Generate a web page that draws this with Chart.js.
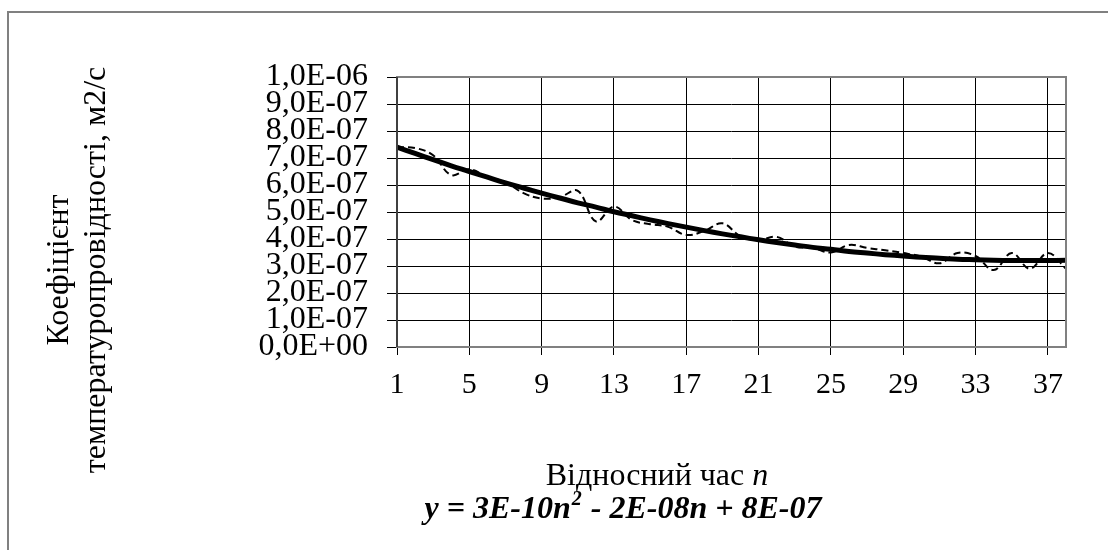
<!DOCTYPE html>
<html>
<head>
<meta charset="utf-8">
<script src="https://cdn.jsdelivr.net/npm/chart.js@4.4.1/dist/chart.umd.min.js"></script>
<style>
html, body { margin: 0; padding: 0; background: #fff; }
</style>
</head>
<body>
<canvas id="diffusivityChart" width="1108" height="550"></canvas>
<script>

// Relative time n (categories)
const timeLabels = [
    "1", "2", "3", "4", "5", "6", "7", "8", "9", "10",
    "11", "12", "13", "14", "15", "16", "17", "18", "19", "20",
    "21", "22", "23", "24", "25", "26", "27", "28", "29", "30",
    "31", "32", "33", "34", "35", "36", "37", "38"
];

// Measured thermal diffusivity, m2/s (dashed line)
const measuredValues = [
    7.40e-7, 7.37e-7, 7.10e-7, 6.37e-7, 6.58e-7, 6.30e-7, 6.10e-7, 5.70e-7, 5.50e-7, 5.55e-7,
    5.78e-7, 4.65e-7, 5.20e-7, 4.70e-7, 4.55e-7, 4.45e-7, 4.15e-7, 4.30e-7, 4.58e-7, 4.10e-7,
    3.96e-7, 4.08e-7, 3.72e-7, 3.67e-7, 3.50e-7, 3.78e-7, 3.67e-7, 3.58e-7, 3.48e-7, 3.35e-7,
    3.10e-7, 3.48e-7, 3.37e-7, 2.85e-7, 3.48e-7, 2.90e-7, 3.48e-7, 2.90e-7
];

// Polynomial trend line (solid)
const trendValues = [
    7.40e-7, 7.17e-7, 6.94e-7, 6.71e-7, 6.50e-7, 6.29e-7, 6.08e-7, 5.89e-7, 5.70e-7, 5.52e-7,
    5.34e-7, 5.18e-7, 5.01e-7, 4.86e-7, 4.71e-7, 4.57e-7, 4.44e-7, 4.31e-7, 4.19e-7, 4.08e-7,
    3.97e-7, 3.87e-7, 3.78e-7, 3.69e-7, 3.62e-7, 3.54e-7, 3.48e-7, 3.42e-7, 3.37e-7, 3.32e-7,
    3.29e-7, 3.25e-7, 3.23e-7, 3.21e-7, 3.20e-7, 3.20e-7, 3.20e-7, 3.21e-7
];

// Y axis ticks
const yTickValues = [0, 1e-7, 2e-7, 3e-7, 4e-7, 5e-7, 6e-7, 7e-7, 8e-7, 9e-7, 1e-6];

const FONT = "'Liberation Serif', 'Times New Roman', serif";


// "3,0E-07" style labels
function sciLabel(v) {
    if (v === 0) return "0,0E+00";
    const parts = v.toExponential(1).split("e");
    const exp = parseInt(parts[1], 10);
    const sign = exp < 0 ? "-" : "+";
    const abs = Math.abs(exp);
    return parts[0].replace(".", ",") + "E" + sign + (abs < 10 ? "0" : "") + abs;
}


// Frame, plot border and titles
const decorPlugin = {
    id: "decor",
    afterDraw(chart) {
        const ctx = chart.ctx;
        const area = chart.chartArea;

        ctx.save();

        // outer chart frame (only top and left are in view)
        ctx.strokeStyle = "#808080";
        ctx.lineWidth = 2;
        ctx.beginPath();
        ctx.moveTo(8, 560);
        ctx.lineTo(8, 12);
        ctx.lineTo(1120, 12);
        ctx.stroke();

        // plot area border
        ctx.strokeStyle = "#808080";
        ctx.lineWidth = 2;
        ctx.strokeRect(area.left, area.top, area.right - area.left, area.bottom - area.top);
        ctx.strokeStyle = "#404040";
        ctx.beginPath();
        ctx.moveTo(area.left, area.top);
        ctx.lineTo(area.left, area.bottom);
        ctx.stroke();

        ctx.fillStyle = "#000";

        // y axis title, two rotated lines centred on the same point
        ctx.save();
        ctx.translate(0, 270);
        ctx.rotate(-Math.PI / 2);
        ctx.font = "32px " + FONT;
        ctx.textAlign = "center";
        ctx.textBaseline = "middle";
        ctx.fillText("Коефіцієнт", 0, 60);
        ctx.fillText("температуропровідності, м2/с", 0, 97);
        ctx.restore();

        // x axis title
        ctx.textBaseline = "alphabetic";
        ctx.textAlign = "left";
        ctx.font = "32px " + FONT;
        const t1 = "Відносний час ";
        const w1 = ctx.measureText(t1).width;
        ctx.font = "italic 32px " + FONT;
        const w2 = ctx.measureText("n").width;
        let x = 657 - (w1 + w2) / 2;
        ctx.font = "32px " + FONT;
        ctx.fillText(t1, x, 485);
        ctx.font = "italic 32px " + FONT;
        ctx.fillText("n", x + w1, 485);

        // trend equation
        const main = "bold italic 32px " + FONT;
        const sup = "bold italic 20px " + FONT;
        const a = "y = 3E-10n";
        const b = "2";
        const c = " - 2E-08n + 8E-07";
        ctx.font = main;
        const wa = ctx.measureText(a).width;
        const wc = ctx.measureText(c).width;
        ctx.font = sup;
        const wb = ctx.measureText(b).width;
        x = 622 - (wa + wb + wc) / 2;
        ctx.font = main;
        ctx.fillText(a, x, 518);
        ctx.font = sup;
        ctx.fillText(b, x + wa + 1, 505);
        ctx.font = main;
        ctx.fillText(c, x + wa + wb + 2, 518);

        ctx.restore();
    }
};


// Thermal diffusivity vs relative time

const diffCanvas = document.getElementById("diffusivityChart");

new Chart(diffCanvas, {

    type: "line",

    data: {

        labels: timeLabels,

        datasets: [
            {
                label: "Тренд",
                data: trendValues,
                borderColor: "#000",
                borderWidth: 5,
                pointRadius: 0,
                tension: 0.4,
                fill: false
            },
            {
                label: "Коефіцієнт",
                data: measuredValues,
                borderColor: "#000",
                borderWidth: 2,
                borderDash: [7, 4],
                pointRadius: 0,
                tension: 0.4,
                fill: false
            }
        ]
    },

    options: {

        responsive: false,
        animation: false,
        devicePixelRatio: 1,

        layout: {
            padding: { top: 77, right: 42, bottom: 0, left: 0 }
        },

        plugins: {
            legend: { display: false },
            tooltip: { enabled: false }
        },

        scales: {

            x: {
                offset: false,
                border: { display: false },
                grid: {
                    color: (c) => (c.index % 4 === 0 ? "#000" : "rgba(0,0,0,0)"),
                    lineWidth: 1,
                    tickLength: 8
                },
                ticks: {
                    autoSkip: false,
                    maxRotation: 0,
                    padding: 12,
                    color: "#000",
                    font: { family: FONT, size: 30 },
                    callback: function (value, index) {
                        return index % 4 === 0 ? timeLabels[index] : "";
                    }
                },
                afterFit: (scale) => { scale.height = 203; }
            },

            y: {
                min: 0,
                max: 1e-6,
                border: { display: false },
                grid: {
                    color: "#000",
                    lineWidth: 1,
                    tickLength: 10
                },
                ticks: {
                    autoSkip: false,
                    padding: 19,
                    color: "#000",
                    font: { family: FONT, size: 32, lineHeight: 0.85 },
                    callback: (v) => sciLabel(v)
                },
                afterBuildTicks: (scale) => {
                    scale.ticks = yTickValues.map((v) => ({ value: v }));
                },
                afterFit: (scale) => { scale.width = 397; }
            }
        }
    },

    plugins: [decorPlugin]
});

</script>
</body>
</html>
